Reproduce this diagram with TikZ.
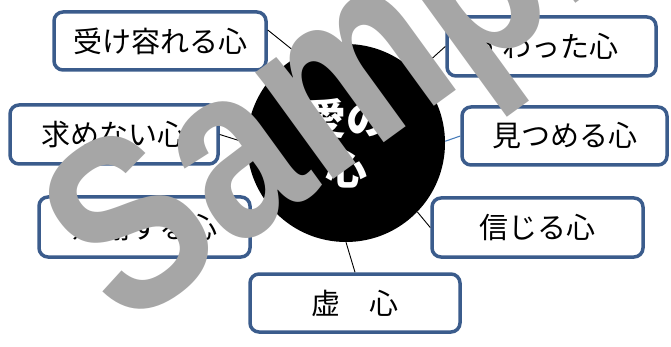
\documentclass[tikz,border=0pt]{standalone}
\usepackage{fontspec}
\setmainfont{Liberation Sans}
\newfontfamily\jp{Noto Sans CJK JP}
\usetikzlibrary{calc}
\definecolor{boxblue}{RGB}{59,92,140}
\definecolor{linkblue}{RGB}{74,126,187}
\definecolor{wmgray}{RGB}{166,166,166}
\begin{document}
\begin{tikzpicture}[x=1pt,y=-1pt,
  kbox/.style={draw=boxblue, line width=3.5pt, rounded corners=9pt, fill=white,
    inner sep=0pt, font=\jp\fontsize{29}{29}\selectfont},
  conn/.style={draw=black, line width=0.9pt},
  connblue/.style={draw=linkblue, line width=1.1pt}
]
\useasboundingbox (0,0) rectangle (671,347);
% centre
\node[circle, fill=black, minimum size=198pt, inner sep=0pt, text=white, align=center,
  font=\jp\bfseries\fontsize{42}{50}\selectfont] (c) at (346,143) {愛の\\心};
% boxes
\node[kbox, minimum width=212pt, minimum height=58pt] (b1) at (160,41) {受け容れる心};
\node[kbox, minimum width=209pt, minimum height=59pt] (b3) at (551.5,46.5) {\hspace{-12pt}すわった心};
\node[kbox, minimum width=205pt, minimum height=58pt] (b4) at (564.5,136) {見つめる心\hspace{9pt}};
\node[kbox, minimum width=208pt, minimum height=59pt] (b5) at (114,134.5) {求めない心\hspace{5pt}};
\node[kbox, minimum width=211pt, minimum height=60pt] (b6) at (144.5,227) {感謝する心};
\node[kbox, minimum width=211pt, minimum height=59pt] (b7) at (537.5,227.5) {信じる心\hspace{15pt}};
\node[kbox, minimum width=210pt, minimum height=58pt] (b8) at (355,303) {虚　心};
% connectors
\draw[conn] ($(b1.east)+(0,-11)$) -- (c.118);
\draw[conn] (b3.west) -- (c.45);
\draw[connblue] (b4.west) -- (c.1);
\draw[conn] (b5.east) -- (c.180);
\draw[conn] (b6.east) -- (c.222);
\draw[conn] (b7.west) -- (c.-44);
\draw[conn] (b8.north) -- (c.south);
% watermark
\node[text=wmgray, font=\bfseries\fontsize{200}{200}\selectfont, rotate=36, inner sep=0pt] (wmk) at (374,70) {\scalebox{1}[1.25]{Sample}};
\end{tikzpicture}
\end{document}
